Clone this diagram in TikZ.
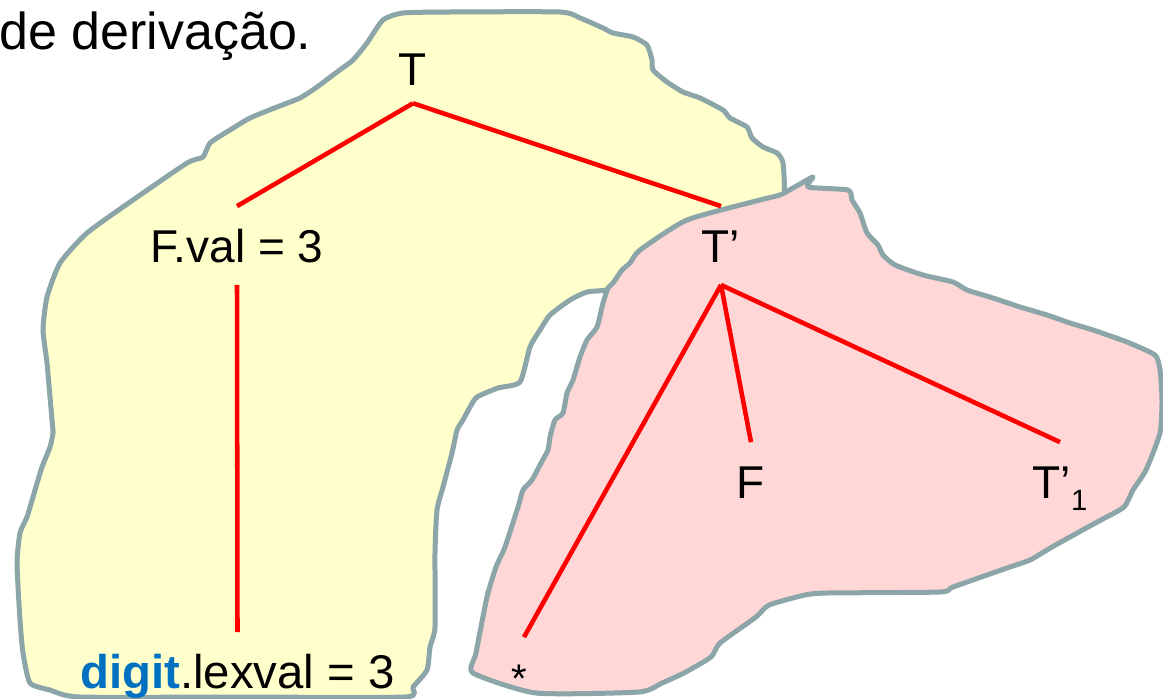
\documentclass[tikz,border=0pt]{standalone}
\usepackage{fontspec}
\setmainfont{Liberation Sans}
\definecolor{yfill}{HTML}{FFFFCC}
\definecolor{pfill}{HTML}{FFD7D7}
\definecolor{edgegray}{HTML}{8BA5A8}
\definecolor{digitblue}{HTML}{0070C0}
\begin{document}
\begin{tikzpicture}[x=0.75pt,y=-0.75pt,
  blob/.style={draw=edgegray,line width=3.75pt,line join=round},
  treeline/.style={draw=red,line width=3.4pt},
  lbl/.style={font=\fontsize{34.5}{40}\selectfont,inner xsep=0pt,inner ysep=17pt,
              text height=24.7pt,text depth=0pt,anchor=base}]
\useasboundingbox (0,0) rectangle (1163,699);

% yellow region
\draw[blob,fill=yfill] plot[smooth cycle,tension=0.35] coordinates {
(383,20) (403,13) (450,12) (560,12) (580,18) (603,28) (613,33) (633,37) (647,45)
(652,60) (653,70) (667,82) (683,92) (700,98) (723,110) (730,118) (747,127) (752,138)
(763,147) (777,153) (783,163) (784,195) (772,214) (700,238) (650,262) (622,285)
(608,290) (587,292) (570,300) (550,315) (540,330) (530,347) (520,382) (498,388)
(477,397) (470,407) (463,420) (457,430) (452,453) (443,487) (437,510) (435,553)
(435,627) (430,647) (427,670) (413,687) (405,697) (240,697) (80,697) (50,690)
(30,683) (23,653) (20,620) (17,563) (20,533) (27,517) (33,497) (38,480) (42,467)
(50,447) (53,433) (52,420) (47,363) (43,330) (47,297) (60,263) (87,233) (133,200)
(187,163) (203,157) (210,143) (230,130) (250,118) (277,107) (300,98) (317,87)
(337,72) (353,60) (367,43)};

% pink region
\draw[blob,fill=pfill] plot[smooth cycle,tension=0.35] coordinates {
(760,200) (780,195) (793,188) (813,177) (808,187) (848,190) (852,200) (860,213)
(867,233) (878,245) (883,255) (895,265) (923,275) (953,282) (967,290) (993,298)
(1020,307) (1047,315) (1070,323) (1093,330) (1127,342) (1155,355) (1160,370)
(1162,400) (1160,433) (1146,470) (1133,490) (1124,507) (1101,520) (1088,527)
(1052,547) (1030,560) (1007,568) (953,587) (940,592) (828,593) (805,595) (769,605)
(756,617) (720,643) (711,657) (684,673) (662,683) (639,692) (536,693) (473,673)
(476,653) (487,597) (496,567) (505,547) (518,507) (523,490) (532,480) (541,463)
(548,450) (550,437) (555,420) (563,413) (567,393) (573,380) (580,357) (587,340)
(597,327) (603,303) (608,288) (613,283) (622,270) (630,263) (640,250) (687,220)};

% title fragment
\node[anchor=base west,inner sep=0pt,font=\fontsize{39}{46}\selectfont] (title) at (-1,50) {de derivação.};

% tree labels
\node[lbl,inner ysep=13.5pt] (T) at (413,85) {T};
\node[lbl] (Tp) at (721,262) {T’};
\node[lbl] (Fval) at (237,262) {F.val = 3};
\node[lbl,font=\fontsize{35.5}{40}\selectfont] (digit) at (237.5,688) {\textcolor{digitblue}{\textbf{digit}}.lexval = 3};
\node[lbl] (F) at (751,498) {F};
\node[lbl] (Tp1) at (1060,498) {T’\raisebox{-9pt}{\fontsize{22}{24}\selectfont 1}};
\node[lbl,font=\fontsize{30}{36}\selectfont,text height=21.5pt,inner ysep=2pt] (star) at (519,692) {*};

% tree edges
\draw[treeline] (T.south) -- (Fval.north);
\draw[treeline] (T.south) -- (Tp.north);
\draw[treeline] (Fval.south) -- (digit.north);
\draw[treeline,shorten >=20pt] (Tp.south) -- (star.north west);
\draw[treeline] (Tp.south) -- (F.north);
\draw[treeline] (Tp.south) -- (Tp1.north);
\end{tikzpicture}
\end{document}
